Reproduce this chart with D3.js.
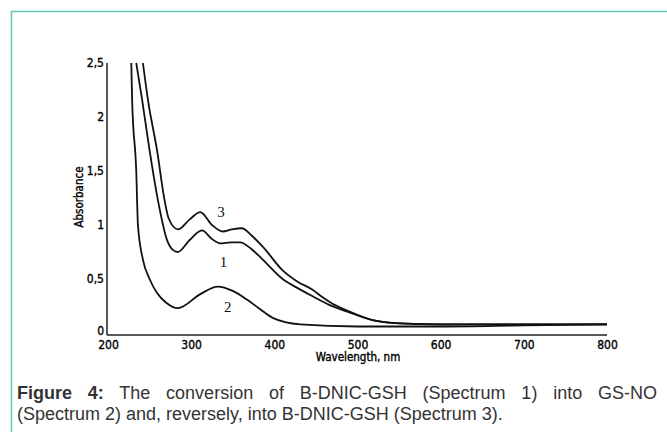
<!DOCTYPE html>
<html>
<head>
<meta charset="utf-8">
<script src="https://cdn.jsdelivr.net/npm/d3@7"></script>
<style>
  html, body { margin: 0; padding: 0; background: #fff; }
  #figure { position: relative; width: 667px; height: 432px; overflow: hidden; }
  .caption { position: absolute; left: 17px; width: 640px; font-family: "Liberation Sans", Arial, sans-serif;
    font-size: 18px; color: #333; line-height: 21px; white-space: nowrap; }
  #cap1 { top: 383px; text-align: justify; text-align-last: justify; white-space: normal; }
  #cap2 { top: 404px; }
</style>
</head>
<body>
<div id="figure">
  <div id="chart"></div>
  <div class="caption" id="cap1"><b>Figure 4:</b> The conversion of B-DNIC-GSH (Spectrum 1) into GS-NO</div>
  <div class="caption" id="cap2">(Spectrum 2) and, reversely, into B-DNIC-GSH (Spectrum 3).</div>
</div>
<script>
// wavelength (nm) / absorbance
const spectrum1 = [
  [234, 2.5], [241, 2.16], [250, 1.69], [260, 1.23], [271, 0.86], [278, 0.77], [284, 0.75],
  [298, 0.86], [313, 0.95], [325, 0.87], [335, 0.83], [348, 0.84], [359, 0.84], [372, 0.78],
  [386, 0.68], [410, 0.5], [427, 0.42], [446, 0.34], [466, 0.26], [487, 0.2], [518, 0.12],
  [551, 0.09], [600, 0.08], [700, 0.08], [800, 0.08]
];
const spectrum2 = [
  [228, 2.5], [229, 2.16], [234, 1.49], [236, 1.0], [242, 0.68], [250, 0.5], [259, 0.37],
  [270, 0.28], [284, 0.23], [311, 0.36], [332, 0.43], [350, 0.39], [367, 0.31], [383, 0.22],
  [398, 0.14], [431, 0.08], [500, 0.06], [600, 0.06], [700, 0.07], [800, 0.08]
];
const spectrum3 = [
  [242, 2.5], [248, 2.16], [259, 1.69], [268, 1.23], [273, 1.06], [284, 0.96], [298, 1.05],
  [311, 1.12], [325, 1.0], [338, 0.94], [349, 0.96], [361, 0.97], [373, 0.9], [386, 0.8],
  [410, 0.58], [427, 0.48], [446, 0.4], [458, 0.33], [470, 0.27], [487, 0.21], [518, 0.12],
  [551, 0.09], [600, 0.08], [700, 0.08], [800, 0.08]
];
const curveLabels = [
  { text: "3", wl: 336, abs: 1.12 },
  { text: "1", wl: 339, abs: 0.66 },
  { text: "2", wl: 344, abs: 0.24 }
];
const xTicks = [200, 300, 400, 500, 600, 700, 800];
const yTicks = [0, 0.5, 1, 1.5, 2, 2.5];

const W = 667, H = 432;
const svg = d3.select("#chart").append("svg")
  .attr("width", W).attr("height", H)
  .style("position", "absolute").style("left", 0).style("top", 0);

// teal frame (left + top edges)
svg.append("path")
  .attr("d", `M11.5,${H} V11.5 H${W}`)
  .attr("fill", "none")
  .attr("stroke", "#62c9b3")
  .attr("stroke-width", 1.5);

const x = d3.scaleLinear().domain([200, 800]).range([108, 607]);
const y = d3.scaleLinear().domain([0, 2.5]).range([333, 63]);

const axisFont = '"DejaVu Sans Condensed", "DejaVu Sans", sans-serif';

// scanned text looks heavier, so add a hairline stroke
function inkText(sel, size) {
  sel.attr("font-family", axisFont).attr("font-size", size)
    .attr("fill", "#000").attr("stroke", "#000").attr("stroke-width", 0.35);
}

// x axis
const gx = svg.append("g")
  .attr("transform", "translate(0,335)")
  .call(d3.axisBottom(x).tickValues(xTicks).tickSize(0).tickPadding(5).tickFormat(d3.format("d")));
gx.select(".domain").attr("stroke", "#222").attr("stroke-width", 1.5).attr("d", "M107,0H607");
gx.selectAll("text").call(inkText, 12);

// y axis
const gy = svg.append("g")
  .attr("transform", "translate(107,0)")
  .call(d3.axisLeft(y).tickValues(yTicks).tickSize(0).tickPadding(3)
    .tickFormat(d => String(d).replace(".", ",")));
gy.select(".domain").attr("stroke", "#222").attr("stroke-width", 1.5).attr("d", "M0,63V335");
gy.selectAll("text").call(inkText, 12);
gy.selectAll(".tick").filter(d => d === 0).select("text").attr("dy", "0.1em");

// axis titles
svg.append("text")
  .attr("x", 358).attr("y", 361)
  .attr("text-anchor", "middle")
  .call(inkText, 11.5)
  .text("Wavelength, nm");

svg.append("text")
  .attr("transform", "translate(83,197) rotate(-90)")
  .attr("text-anchor", "middle")
  .call(inkText, 11.5)
  .text("Absorbance");

// spectra
const line = d3.line()
  .x(d => x(d[0]))
  .y(d => y(d[1]))
  .curve(d3.curveMonotoneX);

[spectrum1, spectrum2, spectrum3].forEach(s => {
  svg.append("path")
    .datum(s)
    .attr("d", line)
    .attr("fill", "none")
    .attr("stroke", "#111")
    .attr("stroke-width", 1.8);
});

// curve numbers
svg.selectAll(".clabel")
  .data(curveLabels)
  .enter()
  .append("text")
  .attr("class", "clabel")
  .attr("x", d => x(d.wl))
  .attr("y", d => y(d.abs))
  .attr("text-anchor", "middle")
  .attr("dy", "0.35em")
  .attr("font-family", '"Liberation Serif", "Times New Roman", serif')
  .attr("font-size", 15)
  .attr("fill", "#111")
  .text(d => d.text);
</script>
</body>
</html>
